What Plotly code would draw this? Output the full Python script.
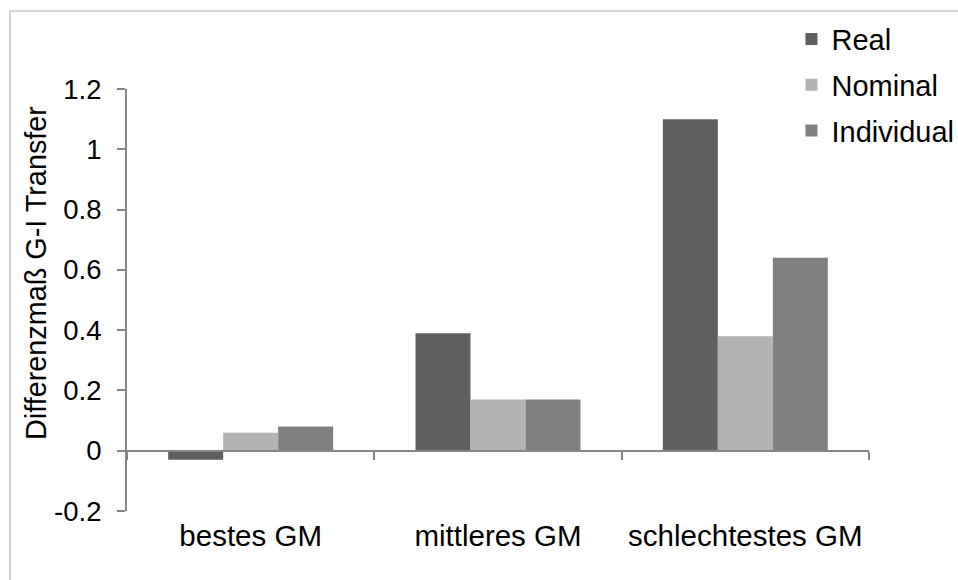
import plotly.graph_objects as go

# Data
categories = ["bestes GM", "mittleres GM", "schlechtestes GM"]
real = [-0.03, 0.39, 1.10]
nominal = [0.06, 0.17, 0.38]
individual = [0.08, 0.17, 0.64]

series = [
    ("Real", real, "#5f5f5f"),
    ("Nominal", nominal, "#b3b3b3"),
    ("Individual", individual, "#818181"),
]

y_ticks = [-0.2, 0, 0.2, 0.4, 0.6, 0.8, 1, 1.2]
y_ticktext = ["-0.2", "0", "0.2", "0.4", "0.6", "0.8", "1", "1.2"]
y_range = [-0.2, 1.2]

FONT = "Liberation Sans, Arial, sans-serif"
AXIS_GRAY = "#868686"

fig = go.Figure()
for name, vals, color in series:
    fig.add_trace(go.Bar(
        x=categories, y=vals, name=name, legendgroup=name,
        marker=dict(color=color, line=dict(width=0)),
    ))

# x axis sits on the zero line of the value axis
zero_pos = (0 - y_range[0]) / (y_range[1] - y_range[0])

fig.update_layout(
    width=958, height=580,
    margin=dict(l=127, r=89, t=89, b=69, autoexpand=False),
    paper_bgcolor="white", plot_bgcolor="white",
    font=dict(family=FONT, size=28, color="black"),
    barmode="group", bargap=0.333, bargroupgap=0,
    showlegend=True,
    legend=dict(
        x=0.8955, xanchor="left", y=1.1785, yanchor="top",
        font=dict(family=FONT, size=29, color="black"),
        bgcolor="rgba(0,0,0,0)", tracegroupgap=5,
        itemclick=False,
    ),
    xaxis=dict(
        type="category", anchor="free", position=zero_pos,
        showline=True, linecolor=AXIS_GRAY, linewidth=2,
        ticks="outside", tickson="boundaries", ticklen=8,
        tickcolor=AXIS_GRAY, tickwidth=2,
        showgrid=False, zeroline=False,
        ticklabelstandoff=59,
        tickfont=dict(family=FONT, size=29.5, color="black"),
    ),
    yaxis=dict(
        range=y_range, tickvals=y_ticks, ticktext=y_ticktext,
        showline=True, linecolor=AXIS_GRAY, linewidth=2,
        ticks="outside", ticklen=8, tickcolor=AXIS_GRAY, tickwidth=2,
        showgrid=False, zeroline=False,
        ticklabelstandoff=10,
        tickfont=dict(family=FONT, size=27.5, color="black"),
    ),
    annotations=[dict(
        text="Differenzmaß G-I Transfer", textangle=-90,
        xref="paper", yref="paper", x=-0.1226, y=0.564,
        xanchor="center", yanchor="middle", showarrow=False,
        font=dict(family=FONT, size=28.8, color="black"),
    )],
    shapes=[dict(
        type="rect", xref="paper", yref="paper",
        x0=-0.1577, x1=1.2, y0=-0.3, y1=1.185,
        line=dict(color="#c8c8c8", width=1.5), layer="below",
    )],
)

fig.write_html("out.html")
